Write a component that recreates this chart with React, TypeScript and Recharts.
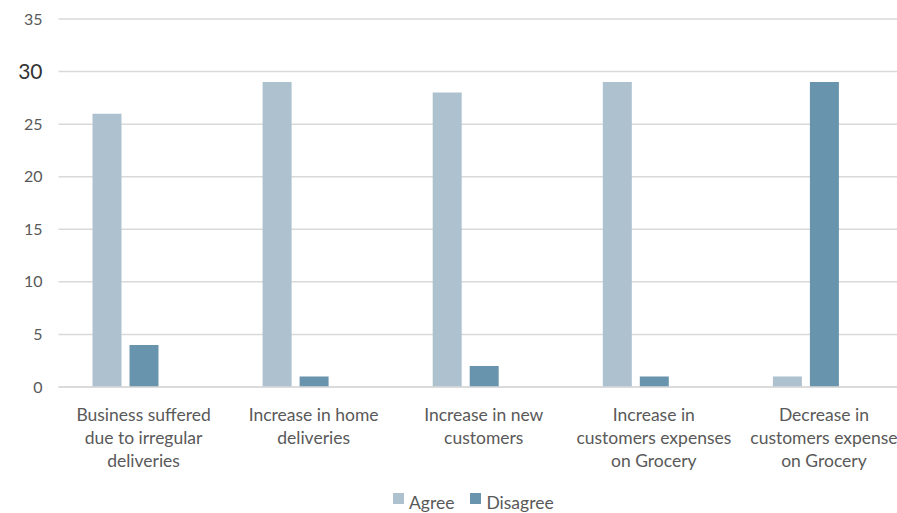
import React from "react";
import { BarChart, Bar, XAxis, YAxis, CartesianGrid, Legend } from "recharts";

const categories = [
  "Business suffered\ndue to irregular\ndeliveries",
  "Increase in home\ndeliveries",
  "Increase in new\ncustomers",
  "Increase in\ncustomers expenses\non Grocery",
  "Decrease in\ncustomers expense\non Grocery",
];
const agree = [26, 29, 28, 29, 1];
const disagree = [4, 1, 2, 1, 29];
// Excel leaves an empty third slot in every cluster
const blank = [0, 0, 0, 0, 0];
const yTicks = [0, 5, 10, 15, 20, 25, 30, 35];

const data = categories.map((c, i) => ({
  name: c,
  Agree: agree[i],
  Disagree: disagree[i],
  Blank: blank[i],
}));

const FONT = "Lato, 'Open Sans', sans-serif";
const TEXT = "#595959";
const GRID = "#d9d9d9";
const AGREE = "#adc2ce";
const DISAGREE = "#6994ae";

// eslint-disable-next-line @typescript-eslint/no-explicit-any
function YTick({ x, y, payload }: any) {
  const big = payload.value === 30;
  return (
    <text
      x={x}
      y={y}
      dy={big ? 7 : 5.5}
      textAnchor="end"
      fill={big ? "#333333" : TEXT}
      fontSize={big ? 21 : 16}
      fontFamily={FONT}
    >
      {payload.value}
    </text>
  );
}

// eslint-disable-next-line @typescript-eslint/no-explicit-any
function XTick({ x, y, payload }: any) {
  const lines = String(payload.value).split("\n");
  return (
    <text x={x} y={y} textAnchor="middle" fill={TEXT} fontSize={17.5} fontFamily={FONT}>
      {lines.map((l, i) => (
        <tspan key={i} x={x} dy={i === 0 ? 25.5 : 23}>
          {l}
        </tspan>
      ))}
    </text>
  );
}

function LegendContent() {
  const items = [
    { label: "Agree", color: AGREE },
    { label: "Disagree", color: DISAGREE },
  ];
  return (
    <div style={{ display: "flex", fontFamily: FONT, fontSize: 17.5, color: TEXT, height: 26 }}>
      {items.map((it) => (
        <div key={it.label} style={{ display: "flex", alignItems: "flex-start", marginRight: 16 }}>
          <span
            style={{
              display: "inline-block",
              width: 11,
              height: 11,
              background: it.color,
              marginRight: 5,
              marginTop: 6,
            }}
          />
          <span style={{ lineHeight: "20px", paddingTop: 6 }}>{it.label}</span>
        </div>
      ))}
    </div>
  );
}

export default function App() {
  return (
    <div
      style={{
        position: "absolute",
        top: 0,
        left: 0,
        width: 897,
        height: 513,
        overflow: "hidden",
        background: "#fff",
      }}
    >
      <BarChart
        width={909}
        height={513}
        data={data}
        margin={{ top: 19, right: 0, bottom: 0, left: 0 }}
        barSize={29}
        barGap={8}
      >
        <CartesianGrid vertical={false} stroke={GRID} strokeWidth={1.5} />
        <XAxis
          dataKey="name"
          interval={0}
          tick={<XTick />}
          tickLine={false}
          axisLine={{ stroke: GRID, strokeWidth: 1.5 }}
          height={100}
        />
        <YAxis
          domain={[0, 35]}
          ticks={yTicks}
          width={58.5}
          tick={<YTick />}
          tickLine={false}
          axisLine={false}
          tickMargin={10}
        />
        <Legend
          verticalAlign="bottom"
          align="left"
          content={<LegendContent />}
          wrapperStyle={{ left: 393, width: "auto", height: 26 }}
        />
        <Bar dataKey="Agree" fill={AGREE} isAnimationActive={false} />
        <Bar dataKey="Disagree" fill={DISAGREE} isAnimationActive={false} />
        <Bar dataKey="Blank" fill={AGREE} legendType="none" isAnimationActive={false} />
      </BarChart>
    </div>
  );
}
